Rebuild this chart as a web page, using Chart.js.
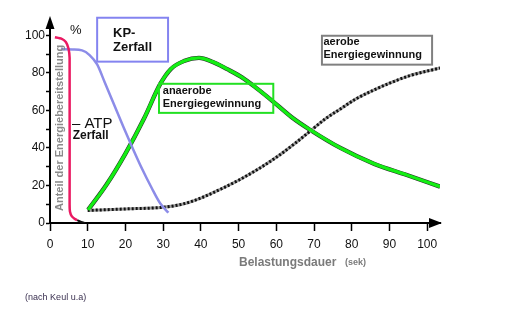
<!DOCTYPE html>
<html>
<head>
<meta charset="utf-8">
<script src="https://cdn.jsdelivr.net/npm/chart.js@4"></script>
<style>
    body { margin: 0; background: #fff; }
    #wrap { width: 517px; height: 326px; }
</style>
</head>
<body>
<div id="wrap"><canvas id="chart" width="517" height="326"></canvas></div>
<script>
// Energiebereitstellung nach Belastungsdauer (nach Keul u.a.)
const xTicks = [0, 10, 20, 30, 40, 50, 60, 70, 80, 90, 100];
const yTicks = [0, 10, 20, 30, 40, 50, 60, 70, 80, 90, 100];

// ATP-Zerfall
const atpX = [1.3, 3, 4.2, 4.9, 5.2, 5.2, 5.3, 5.8, 6.5, 7.2];
const atpY = [99, 98.3, 96.5, 93, 88, 10, 6, 3.5, 2.3, 1.5];
// black tail at the foot of the ATP curve
const atpTailX = [7.2, 8.3, 9.3];
const atpTailY = [1.5, 0.6, 0];

// KP-Zerfall
const kpX = [2.9, 6, 8.5, 10.5, 12.5, 14.5, 17, 19.5, 22, 24.5, 27, 29.2, 31.4];
const kpY = [92.6, 92.5, 92, 89.5, 84.5, 75, 63, 51, 39.5, 28.5, 18.5, 10.5, 5.5];

// anaerobe Energiegewinnung
const anaerobX = [10.1, 15, 20, 25, 29.2, 32, 35.5, 39.5, 43, 47, 51, 55, 59, 64, 69, 77, 86, 94.6, 103.4];
const anaerobY = [7, 20.5, 37, 56, 74, 82, 86.3, 88, 86, 82, 77.5, 71.5, 65, 56.5, 49.6, 40, 31.5, 25.6, 19.4];

// aerobe Energiegewinnung
const aerobX = [10, 20, 30, 35, 40, 45, 50, 55, 60, 65, 69, 73, 77, 81, 86, 90, 95, 103.4];
const aerobY = [6.7, 7.5, 8.4, 10, 13.3, 17.8, 22.8, 28.5, 35, 42.5, 49, 55.5, 60.8, 66, 71, 74.5, 78.3, 82.6];

const pts = (xs, ys) => xs.map((x, i) => ({ x: x, y: ys[i] }));

// boxes and texts, placed in data units
const boxes = [
    { x1: 12.5, x2: 31.3, y1: 109.4, y2: 86, color: '#8484f0' },
    { x1: 28.9, x2: 59.2, y1: 74.2, y2: 58.7, color: '#22e022' },
    { x1: 72.1, x2: 101.3, y1: 99.8, y2: 84.4, color: '#808080' }
];
const texts = [
    { t: 'KP-', x: 16.7, y: 101.3, font: 'bold 13px "Liberation Sans", Arial', color: '#111' },
    { t: 'Zerfall', x: 16.7, y: 93.8, font: 'bold 13px "Liberation Sans", Arial', color: '#111' },
    { t: 'anaerobe', x: 29.9, y: 70.6, font: 'bold 11px "Liberation Sans", Arial', color: '#111' },
    { t: 'Energiegewinnung', x: 29.9, y: 63.5, font: 'bold 11px "Liberation Sans", Arial', color: '#111' },
    { t: 'aerobe', x: 72.5, y: 96.5, font: 'bold 11px "Liberation Sans", Arial', color: '#111' },
    { t: 'Energiegewinnung', x: 72.5, y: 89.3, font: 'bold 11px "Liberation Sans", Arial', color: '#111' },
    { t: '– ATP', x: 5.8, y: 52.8, font: '15px "Liberation Sans", Arial', color: '#111' },
    { t: 'Zerfall', x: 6.0, y: 46.5, font: 'bold 12px "Liberation Sans", Arial', color: '#111' },
    { t: '%', x: 5.3, y: 102.5, font: '13px "Liberation Sans", Arial', color: '#111' },
    { t: 'Belastungsdauer', x: 50.1, y: -21.4, font: 'bold 12px "Liberation Sans", Arial', color: '#7a7a7a' },
    { t: '(sek)', x: 78.2, y: -20.8, font: 'bold 9px "Liberation Sans", Arial', color: '#7a7a7a' },
    { t: '(nach Keul u.a)', x: -6.6, y: -39.5, font: '9px "Liberation Sans", Arial', color: '#3a3050' }
];
const yTitle = { t: 'Anteil der Energiebereitstellung', x: 2.65, y: 50.7 };

const decorations = {
    id: 'decorations',
    afterDraw(chart) {
        const ctx = chart.ctx;
        const xs = chart.scales.x, ys = chart.scales.y;
        const ax = xs.getPixelForValue(0);
        const ay = ys.getPixelForValue(0);
        const right = chart.chartArea.right;
        ctx.save();
        // axis arrows
        ctx.strokeStyle = '#000';
        ctx.fillStyle = '#000';
        ctx.lineWidth = 2;
        ctx.beginPath();
        ctx.moveTo(ax, chart.chartArea.top);
        ctx.lineTo(ax, 26);
        ctx.stroke();
        ctx.beginPath();
        ctx.moveTo(ax, 16);
        ctx.lineTo(ax - 4.5, 29);
        ctx.lineTo(ax + 4.5, 29);
        ctx.closePath();
        ctx.fill();
        ctx.beginPath();
        ctx.moveTo(right + 2, ay);
        ctx.lineTo(right - 11, ay - 5);
        ctx.lineTo(right - 11, ay + 5);
        ctx.closePath();
        ctx.fill();

        boxes.forEach(b => {
            ctx.strokeStyle = b.color;
            ctx.lineWidth = 2;
            const x1 = xs.getPixelForValue(b.x1), x2 = xs.getPixelForValue(b.x2);
            const y1 = ys.getPixelForValue(b.y1), y2 = ys.getPixelForValue(b.y2);
            ctx.strokeRect(x1, y1, x2 - x1, y2 - y1);
        });

        ctx.textBaseline = 'middle';
        ctx.textAlign = 'left';
        texts.forEach(l => {
            ctx.font = l.font;
            ctx.fillStyle = l.color;
            ctx.fillText(l.t, xs.getPixelForValue(l.x), ys.getPixelForValue(l.y));
        });

        ctx.translate(xs.getPixelForValue(yTitle.x), ys.getPixelForValue(yTitle.y));
        ctx.rotate(-Math.PI / 2);
        ctx.textAlign = 'center';
        ctx.font = 'bold 11px "Liberation Sans", Arial';
        ctx.fillStyle = '#8a8a8a';
        ctx.fillText(yTitle.t, 0, 0);
        ctx.restore();
    }
};

new Chart(document.getElementById('chart'), {
    type: 'line',
    data: {
        datasets: [
            {
                data: pts(atpX, atpY),
                borderColor: '#ea1a62',
                borderWidth: 2.5,
                tension: 0.15,
                order: 1
            },
            {
                data: pts(atpTailX, atpTailY),
                borderColor: '#111',
                borderWidth: 2,
                tension: 0.3,
                order: 1
            },
            {
                data: pts(kpX, kpY),
                borderColor: '#8c8ce8',
                borderWidth: 2.5,
                cubicInterpolationMode: 'monotone',
                order: 2
            },
            {
                data: pts(anaerobX, anaerobY),
                borderColor: '#14ee14',
                borderWidth: 3.3,
                cubicInterpolationMode: 'monotone',
                order: 3
            },
            {
                data: pts(anaerobX, anaerobY),
                borderColor: '#2a2a2a',
                borderWidth: 4.3,
                cubicInterpolationMode: 'monotone',
                order: 8
            },
            {
                data: pts(aerobX, aerobY),
                borderColor: '#111',
                borderWidth: 3,
                borderDash: [2, 2],
                cubicInterpolationMode: 'monotone',
                order: 4
            },
            {
                data: pts(aerobX, aerobY),
                borderColor: '#a0a0a0',
                borderWidth: 3,
                cubicInterpolationMode: 'monotone',
                order: 7
            }
        ]
    },
    options: {
        responsive: false,
        animation: false,
        layout: { padding: { left: 0, top: 26, right: 77, bottom: 0 } },
        elements: { point: { radius: 0 } },
        plugins: {
            legend: { display: false },
            tooltip: { enabled: false }
        },
        scales: {
            x: {
                type: 'linear',
                min: 0,
                max: 103.4,
                afterFit: s => { s.height = 103; },
                afterBuildTicks: s => { s.ticks = xTicks.map(v => ({ value: v })); },
                grid: { drawOnChartArea: false, tickLength: 8, color: '#000', tickWidth: 1.5 },
                border: { color: '#000', width: 2 },
                ticks: {
                    color: '#111',
                    padding: 6,
                    font: { family: '"Liberation Sans", Arial', size: 12 }
                }
            },
            y: {
                type: 'linear',
                min: 0,
                max: 105,
                afterFit: s => { s.width = 50; },
                afterBuildTicks: s => { s.ticks = yTicks.map(v => ({ value: v })); },
                grid: { drawOnChartArea: false, tickLength: 4, color: '#000', tickWidth: 1.5 },
                border: { color: '#000', width: 2 },
                ticks: {
                    color: '#111',
                    padding: 1,
                    font: { family: '"Liberation Sans", Arial', size: 12 },
                    callback: v => (v % 20 === 0 ? v : '')
                }
            }
        }
    },
    plugins: [decorations]
});
</script>
</body>
</html>
